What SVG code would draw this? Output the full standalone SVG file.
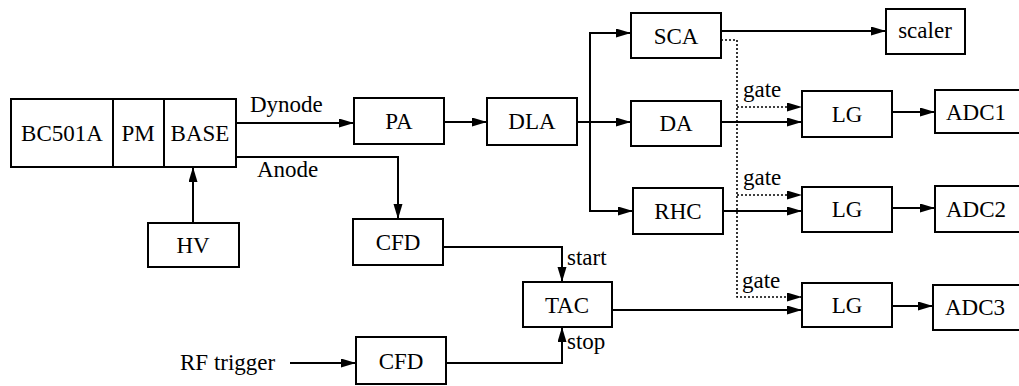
<svg xmlns="http://www.w3.org/2000/svg" width="1019" height="386" viewBox="0 0 1019 386">
<style>
.box{fill:#fff;stroke:#000;stroke-width:2}
text{font-family:'Liberation Serif','DejaVu Serif','Noto Serif',serif;font-size:23px;fill:#000}
.t{text-anchor:middle}
.c{fill:none;stroke:#000;stroke-width:2}
.d{fill:none;stroke:#000;stroke-width:1.6;stroke-dasharray:2,2}
</style>
<defs>
<marker id="a" markerUnits="userSpaceOnUse" markerWidth="16" markerHeight="10" refX="15" refY="4.5" orient="auto">
<path d="M0,0 L15,4.5 L0,9 z" fill="#000"/>
</marker>
</defs>
<rect width="1019" height="386" fill="#fff"/>
<g id="connectors">
<path class="c" d="M236,123 H354" marker-end="url(#a)"/>
<path class="c" d="M236,157 H398 V219" marker-end="url(#a)"/>
<path class="c" d="M193,223 V167" marker-end="url(#a)"/>
<path class="c" d="M444,122 H487" marker-end="url(#a)"/>
<path class="c" d="M577,122 H631" marker-end="url(#a)"/>
<path class="c" d="M590,122 V33 H631" marker-end="url(#a)"/>
<path class="c" d="M590,122 V211 H633" marker-end="url(#a)"/>
<path class="c" d="M721,31 H886" marker-end="url(#a)"/>
<path class="c" d="M721,122 H802" marker-end="url(#a)"/>
<path class="c" d="M723,211 H802" marker-end="url(#a)"/>
<path class="d" d="M721,40 H737 V297 H802" marker-end="url(#a)"/>
<path class="d" d="M737,107 H802" marker-end="url(#a)"/>
<path class="d" d="M737,195 H802" marker-end="url(#a)"/>
<path class="c" d="M892,112 H935" marker-end="url(#a)"/>
<path class="c" d="M892,208 H935" marker-end="url(#a)"/>
<path class="c" d="M892,306 H933" marker-end="url(#a)"/>
<path class="c" d="M443,247 H562 V282" marker-end="url(#a)"/>
<path class="c" d="M446,363 H562 V327" marker-end="url(#a)"/>
<path class="c" d="M612,310 H802" marker-end="url(#a)"/>
<path class="c" d="M290,363 H356" marker-end="url(#a)"/>
<text x="250" y="112">Dynode</text>
<text x="257" y="177">Anode</text>
<text x="743" y="97">gate</text>
<text x="743" y="185">gate</text>
<text x="742" y="288">gate</text>
<text x="567" y="265">start</text>
<text x="567" y="349">stop</text>
<text x="180" y="370">RF trigger</text>
</g>
<g id="detector">
<rect class="box" x="11" y="99" width="225" height="68"/>
<line class="c" x1="113" y1="99" x2="113" y2="167"/>
<line class="c" x1="164" y1="99" x2="164" y2="167"/>
<text class="t" x="62" y="141">BC501A</text>
<text class="t" x="138" y="141">PM</text>
<text class="t" x="200" y="141">BASE</text>
</g>
<g id="hv"><rect class="box" x="148" y="223" width="91" height="44"/><text class="t" x="193" y="253">HV</text></g>
<g id="pa"><rect class="box" x="354" y="98" width="90" height="46"/><text class="t" x="399" y="129">PA</text></g>
<g id="dla"><rect class="box" x="487" y="98" width="90" height="47"/><text class="t" x="532" y="129">DLA</text></g>
<g id="sca"><rect class="box" x="631" y="13" width="90" height="45"/><text class="t" x="676" y="44">SCA</text></g>
<g id="scaler"><rect class="box" x="886" y="9" width="79" height="45"/><text class="t" x="925" y="38">scaler</text></g>
<g id="da"><rect class="box" x="631" y="101" width="90" height="45"/><text class="t" x="676" y="131">DA</text></g>
<g id="rhc"><rect class="box" x="633" y="188" width="90" height="46"/><text class="t" x="678" y="219">RHC</text></g>
<g id="lg1"><rect class="box" x="802" y="91" width="90" height="46"/><text class="t" x="847" y="122">LG</text></g>
<g id="lg2"><rect class="box" x="802" y="187" width="90" height="45"/><text class="t" x="847" y="217">LG</text></g>
<g id="lg3"><rect class="box" x="802" y="283" width="90" height="44"/><text class="t" x="847" y="313">LG</text></g>
<g id="adc1"><rect class="box" x="935" y="90" width="92" height="43"/><text class="t" x="976" y="120">ADC1</text></g>
<g id="adc2"><rect class="box" x="935" y="186" width="92" height="46"/><text class="t" x="976" y="217">ADC2</text></g>
<g id="adc3"><rect class="box" x="933" y="285" width="94" height="45"/><text class="t" x="975" y="315">ADC3</text></g>
<g id="cfd1"><rect class="box" x="353" y="219" width="90" height="46"/><text class="t" x="398" y="250">CFD</text></g>
<g id="tac"><rect class="box" x="523" y="282" width="89" height="45"/><text class="t" x="567" y="313">TAC</text></g>
<g id="cfd2"><rect class="box" x="356" y="337" width="90" height="47"/><text class="t" x="401" y="369">CFD</text></g>
</svg>
